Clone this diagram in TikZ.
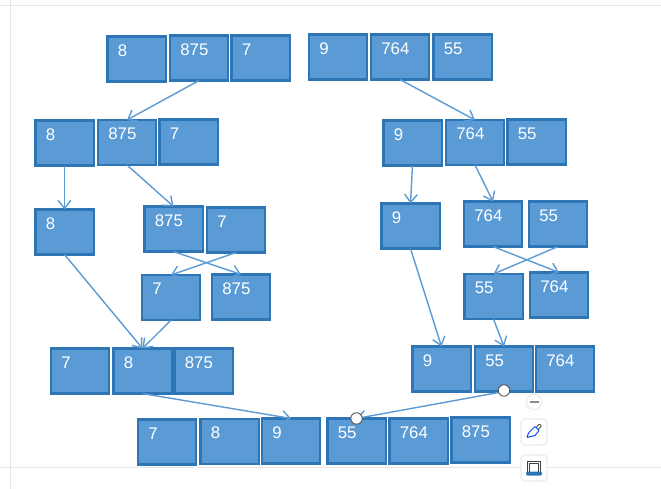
\documentclass[tikz,border=0pt]{standalone}
\usepackage{fontspec}
\setmainfont{Liberation Sans}
\usetikzlibrary{arrows.meta}
\definecolor{cellFill}{HTML}{5B9BD5}
\definecolor{cellLine}{HTML}{2E75B6}
\definecolor{pageLine}{HTML}{E6E6E6}
\tikzset{
	cell/.style={rectangle, fill=cellFill, draw=cellLine, line width=1.6pt, minimum width=43.6pt, minimum height=33.8pt, inner sep=0pt, outer sep=0pt},
	num/.style={anchor=north west, text=white, font=\fontsize{12.6pt}{14pt}\selectfont, inner sep=0pt, xshift=7.6pt, yshift=-6pt},
	edge/.style={->, draw=cellFill, line width=1.05pt},
	handle/.style={circle, fill=white, draw=black!65, line width=0.7pt, minimum size=8.6pt, inner sep=0pt},
	toolbtn/.style={rectangle, rounded corners=3pt, fill=white, draw=black!7, line width=1pt, minimum size=19.5pt, inner sep=0pt},
	minusbtn/.style={circle, fill=white, draw=black!7, line width=1pt, minimum size=11.5pt, inner sep=0pt},
	>={Straight Barb[length=6pt, width=9.5pt]}
}
\begin{document}
\begin{tikzpicture}[x=0.75pt, y=-0.75pt]
	\useasboundingbox (0,0) rectangle (661,489);
	\fill[white] (0,0) rectangle (661,489);

	% page guides
	\draw[pageLine, line width=0.75pt] (10.5,0) -- (10.5,489);
	\draw[pageLine, line width=0.75pt] (0,5) -- (661,5);
	\draw[pageLine, line width=0.75pt] (0,467) -- (661,467);

	% row a
	\node[cell, label={[num]north west:8}](aOne) at (136.5,59){};
	\node[cell, label={[num]north west:875}](aTwo) at (199,58){};
	\node[cell, label={[num]north west:7}](aThree) at (260.5,58){};
	\node[cell, label={[num]north west:9}](aFour) at (338,57){};
	\node[cell, label={[num]north west:764}](aFive) at (400,57){};
	\node[cell, label={[num]north west:55}](aSix) at (462.5,57){};

	% row b
	\node[cell, label={[num]north west:8}](bOne) at (64.5,143){};
	\node[cell, label={[num]north west:875}](bTwo) at (127,142.5){};
	\node[cell, label={[num]north west:7}](bThree) at (188.5,142){};
	\node[cell, label={[num]north west:9}](bFour) at (412.5,143){};
	\node[cell, label={[num]north west:764}](bFive) at (475,142.5){};
	\node[cell, label={[num]north west:55}](bSix) at (536.5,142){};

	% row c
	\node[cell, label={[num]north west:8}](cOne) at (64.5,232){};
	\node[cell, label={[num]north west:875}](cTwo) at (173.5,229){};
	\node[cell, label={[num]north west:7}](cThree) at (236,230){};
	\node[cell, label={[num]north west:9}](cFour) at (410.5,226){};
	\node[cell, label={[num]north west:764}](cFive) at (493,224){};
	\node[cell, label={[num]north west:55}](cSix) at (558,224){};

	% row d
	\node[cell, label={[num]north west:7}](dOne) at (171,297.5){};
	\node[cell, label={[num]north west:875}](dTwo) at (241,297){};
	\node[cell, label={[num]north west:55}](dThree) at (493.5,296.5){};
	\node[cell, label={[num]north west:764}](dFour) at (559,295){};

	% row e
	\node[cell, label={[num]north west:7}](eOne) at (80,371){};
	\node[cell, label={[num]north west:8}](eTwo) at (142.5,371){};
	\node[cell, label={[num]north west:875}](eThree) at (203.5,371){};
	\node[cell, label={[num]north west:9}](eFour) at (441.5,369){};
	\node[cell, label={[num]north west:55}](eFive) at (504,369){};
	\node[cell, label={[num]north west:764}](eSix) at (565,369){};

	% row f
	\node[cell, label={[num]north west:7}](fOne) at (167,442){};
	\node[cell, label={[num]north west:8}](fTwo) at (229.5,441.5){};
	\node[cell, label={[num]north west:9}](fThree) at (291,441){};
	\node[cell, label={[num]north west:55}](fFour) at (356.5,441){};
	\node[cell, label={[num]north west:764}](fFive) at (418.5,441){};
	\node[cell, label={[num]north west:875}](fSix) at (480.5,440){};

	% draw left edges
	\draw[edge] (aTwo.south) -- (bTwo.north);
	\draw[edge] (bOne.south) -- (cOne.north);
	\draw[edge] (bTwo.south) -- (cTwo.north);
	\draw[edge] (cTwo.south) -- (dTwo.north);
	\draw[edge] (cThree.south) -- (dOne.north);
	\draw[edge] (cOne.south) -- (eTwo.north);
	\draw[edge] (dOne.south) -- (eTwo.north);
	\draw[edge] (eTwo.south) -- (fThree.north);

	% draw right edges
	\draw[edge] (aFive.south) -- (bFive.north);
	\draw[edge] (bFour.south) -- (cFour.north);
	\draw[edge] (bFive.south) -- (cFive.north);
	\draw[edge] (cFive.south) -- (dFour.north);
	\draw[edge] (cSix.south) -- (dThree.north);
	\draw[edge] (cFour.south) -- (eFour.north);
	\draw[edge] (dThree.south) -- (eFive.north);
	\draw[edge] (eFive.south) -- (fFour.north);

	% selected connector handles
	\node[handle](startHandle) at ([yshift=0.8pt]eFive.south){};
	\node[handle](endHandle) at (fFour.north){};

	% floating tool buttons
	\node[minusbtn](minusBtn) at (534,402){};
	\fill[black!45] (529.5,401.2) rectangle (538.5,402.8);
	\node[toolbtn](brushBtn) at (534,432){};
	\draw[black!70, line width=0.7pt, rounded corners=0.5pt] (536,427.5) -- (539.5,424) -- (541.5,426) -- (538,429.5);
	\draw[blue!70!cyan, line width=0.75pt, rounded corners=0.5pt] (535,426.5) -- (539,430.5) -- (535,435.5) -- (527,437.5) -- (528.5,433) -- cycle;
	\node[toolbtn](layoutBtn) at (534,468){};
	\draw[black!75, line width=0.6pt] (527.5,473) -- (527.5,461) -- (540.5,461) -- (540.5,473);
	\draw[black!75, line width=0.6pt] (529.5,473) -- (529.5,463) -- (538.5,463) -- (538.5,473);
	\fill[cellLine, rounded corners=1pt] (526,471.5) rectangle (542,475.5);
\end{tikzpicture}
\end{document}
